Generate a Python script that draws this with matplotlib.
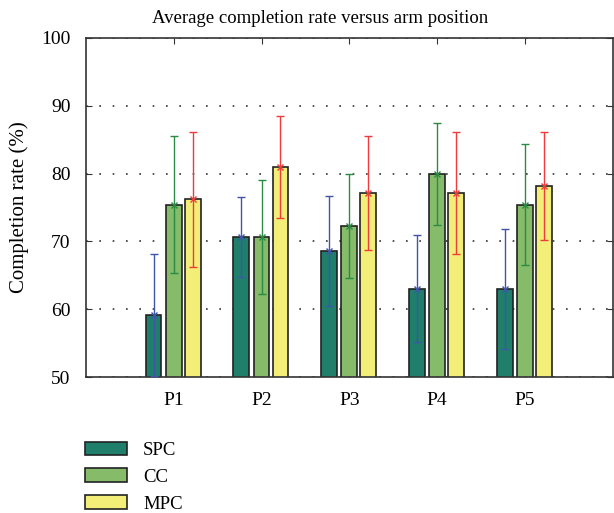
import matplotlib.pyplot as plt
import numpy as np

plt.rcParams['font.family'] = ['Liberation Serif', 'DejaVu Serif']

positions = ['P1', 'P2', 'P3', 'P4', 'P5']
methods = ['SPC', 'CC', 'MPC']
spc = [59.1, 70.6, 68.6, 63.0, 63.0]
cc = [75.4, 70.6, 72.3, 79.9, 75.4]
mpc = [76.2, 81.0, 77.1, 77.1, 78.2]
spc_err = [9.0, 5.9, 8.1, 7.9, 8.8]
cc_err = [10.1, 8.4, 7.7, 7.5, 8.9]
mpc_err = [9.9, 7.5, 8.4, 9.0, 8.0]

bar_colors = ['#1f7f6a', '#86bb6a', '#f2ee78']
err_colors = ['#4055a8', '#2a8c44', '#ee3c3c']

fig = plt.figure(figsize=(6.14, 5.13), dpi=100)
ax = fig.add_axes([0.140, 0.265, 0.858, 0.661])

x = np.arange(1, len(positions) + 1)
offsets = [-0.23, 0.0, 0.215]
width = 0.18
for vals, errs, off, bc, ec, name in zip([spc, cc, mpc], [spc_err, cc_err, mpc_err],
                                         offsets, bar_colors, err_colors, methods):
    ax.bar(x + off, vals, width, color=bc, edgecolor='#222222', linewidth=1.2,
           label=name, zorder=2)
    ax.errorbar(x + off, vals, yerr=errs, fmt='x', color=ec, ecolor=ec,
                elinewidth=1.0, capsize=3, capthick=1.0, markersize=5, zorder=3)

ax.set_xlim(0, 6)
ax.set_ylim(50, 100)
ax.set_xticks(x)
ax.set_xticklabels(positions)
ax.set_yticks([50, 60, 70, 80, 90, 100])
ax.yaxis.grid(True, linestyle=(0, (1, 7)), color='#333333', linewidth=1.2)
ax.set_axisbelow(True)
ax.tick_params(direction='in', top=True, right=True, labelsize=14, length=4,
               color='#333333', pad=11)
for s in ax.spines.values():
    s.set_color('#333333')
    s.set_linewidth(1.2)

ax.set_ylabel('Completion rate (%)', fontsize=15, labelpad=9)
ax.set_title('Average completion rate versus arm position', fontsize=13.5, pad=11,
             x=0.445)

fig.legend(loc='upper left', bbox_to_anchor=(0.111, 0.172), frameon=False,
           fontsize=13.5, handlelength=2.25, handleheight=0.75, labelspacing=0.5,
           handletextpad=0.85)

fig.savefig('out.png', dpi=100)
